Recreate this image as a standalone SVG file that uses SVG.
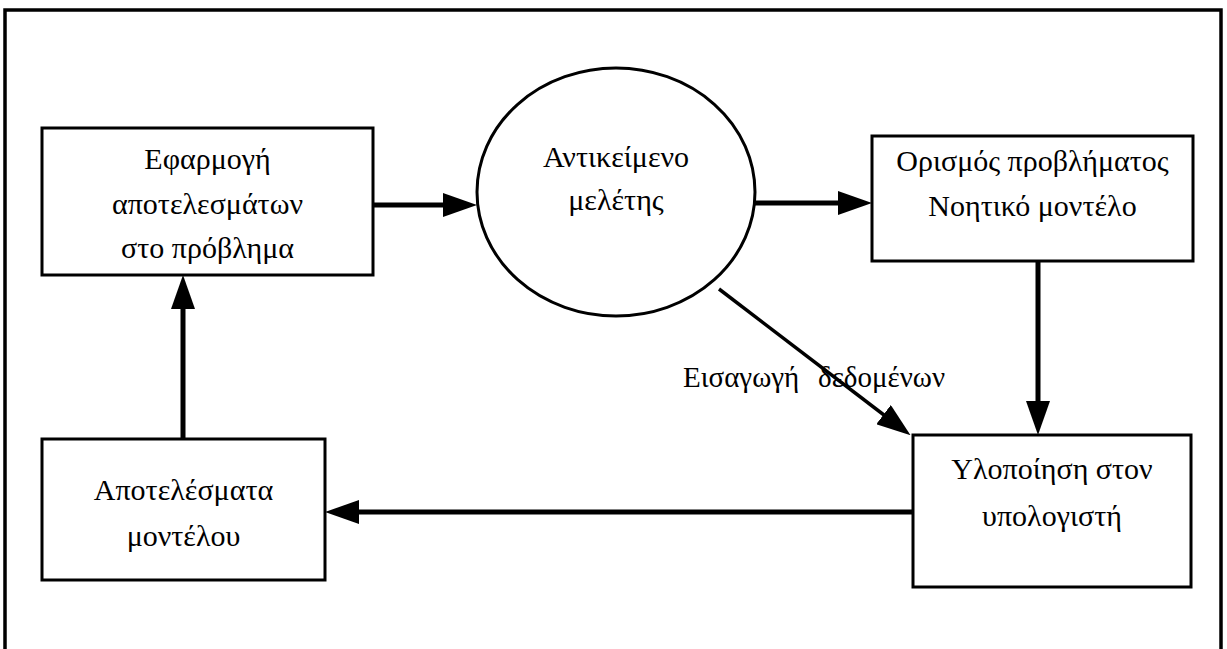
<svg xmlns="http://www.w3.org/2000/svg" width="1227" height="649" viewBox="0 0 1227 649">
<style>
.box{fill:#fff;stroke:#000;stroke-width:3}
.t{font-family:"Liberation Serif","DejaVu Serif",serif;font-size:30px;fill:#000;text-anchor:middle}
.lbl{font-family:"Liberation Serif","DejaVu Serif",serif;font-size:29px;fill:#000}
.c{stroke:#000;fill:none}
.thick{stroke-width:5}
.thin{stroke-width:3.5}
</style>
<defs>
<marker id="ah" markerUnits="userSpaceOnUse" markerWidth="34" markerHeight="24" refX="22" refY="12" orient="auto">
<path d="M0,0 L34,12 L0,24 z" fill="#000"/>
</marker>
</defs>
<rect width="1227" height="649" fill="#fff"/>
<rect x="5" y="10" width="1216" height="700" fill="none" stroke="#000" stroke-width="3.5"/>
<g id="n-apply">
<rect class="box" x="42" y="128" width="331" height="147"/>
<text class="t" x="207.5" y="169">Εφαρμογή</text>
<text class="t" x="207.5" y="214">αποτελεσμάτων</text>
<text class="t" x="207.5" y="258">στο πρόβλημα</text>
</g>
<g id="n-object">
<ellipse class="box" cx="616" cy="192" rx="139" ry="124"/>
<text class="t" x="616" y="167">Αντικείμενο</text>
<text class="t" x="616" y="210">μελέτης</text>
</g>
<g id="n-define">
<rect class="box" x="872" y="136" width="321" height="125"/>
<text class="t" x="1032.5" y="171">Ορισμός προβλήματος</text>
<text class="t" x="1032.5" y="216">Νοητικό μοντέλο</text>
</g>
<g id="n-impl">
<rect class="box" x="913" y="435" width="278" height="152"/>
<text class="t" x="1052" y="479">Υλοποίηση στον</text>
<text class="t" x="1052" y="526">υπολογιστή</text>
</g>
<g id="n-results">
<rect class="box" x="42" y="439" width="283" height="141"/>
<text class="t" x="183.5" y="500">Αποτελέσματα</text>
<text class="t" x="183.5" y="546">μοντέλου</text>
</g>
<g id="connectors">
<line class="c thick" x1="373" y1="205" x2="465" y2="205" marker-end="url(#ah)"/>
<line class="c thick" x1="755" y1="203" x2="860" y2="203" marker-end="url(#ah)"/>
<line class="c thick" x1="1038" y1="261" x2="1038" y2="423" marker-end="url(#ah)"/>
<line class="c thin" x1="719" y1="289" x2="901" y2="428" marker-end="url(#ah)"/>
<line class="c thick" x1="913" y1="512" x2="337" y2="512" marker-end="url(#ah)"/>
<line class="c thick" x1="183" y1="439" x2="183" y2="287" marker-end="url(#ah)"/>
<text class="lbl" x="683" y="387">Εισαγωγή<tspan x="818">δεδομένων</tspan></text>
</g>
</svg>
